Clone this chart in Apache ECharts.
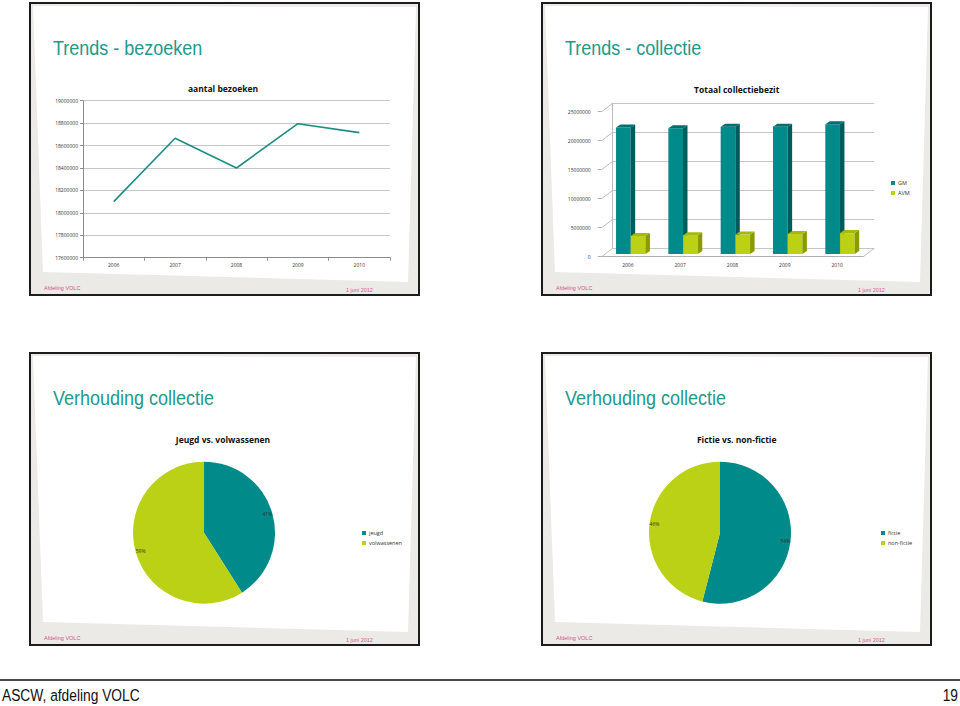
<!DOCTYPE html>
<html><head><meta charset="utf-8">
<script src="https://cdn.jsdelivr.net/npm/echarts@6/dist/echarts.min.js"></script>
<style>html,body{margin:0;padding:0;background:#fff}#c{width:960px;height:706px}</style>
</head><body><div id="c"></div><script>
// ---- data ----
const years = ['2006', '2007', '2008', '2009', '2010'];
const visits = [18100000, 18665000, 18400000, 18795000, 18715000];
const visitMin = 17600000, visitMax = 19000000, visitStep = 200000;
const gmValues = [21800000, 21700000, 21950000, 21950000, 22350000];
const avmValues = [3100000, 3250000, 3350000, 3450000, 3600000];
const collTicks = [0, 5000000, 10000000, 15000000, 20000000, 25000000];
const ageNames = ['jeugd', 'volwassenen'];
const ageValues = [41, 59];
const genreNames = ['fictie', 'non-fictie'];
const genreValues = [54, 46];
const slideTitles = ['Trends - bezoeken', 'Trends - collectie', 'Verhouding collectie', 'Verhouding collectie'];
const chartTitles = ['aantal bezoeken', 'Totaal collectiebezit', 'Jeugd vs. volwassenen', 'Fictie vs. non-fictie'];

// ---- styles ----
const TEAL = '#008b8a', TEAL_SIDE = '#005c5c', TEAL_TOP = '#006e6e';
const LIME = '#bbd116', LIME_SIDE = '#8a9a00', LIME_TOP = '#a5b80c';
const LINE = '#1f8c82', TITLE = '#22998b', PINK = '#d4538a';
const FONT = 'Liberation Sans';
const CFONT = 'Open Sans';

const chart = echarts.init(document.getElementById('c'), null, {renderer: 'svg'});

const offsets = [[0, 0], [512, 0], [0, 350], [512, 350]];
const titleCenters = [[223, 88], [736.7, 89], [223, 439], [736.7, 439]];
const graphics = [];
function txt(x, y, text, size, family, fill, extra) {
  return Object.assign({type: 'text', z: 10, x, y, silent: true,
    style: Object.assign({text, fontSize: size, fontFamily: family, fill, textVerticalAlign: 'middle'}, (extra && extra.style) || {})},
    (extra && extra.el) || {});
}
offsets.forEach(([ox, oy], k) => {
  graphics.push({type: 'rect', z: -10, shape: {x: 30 + ox, y: 3 + oy, width: 389, height: 292},
    style: {fill: '#eceae7', stroke: '#1c1c1c', lineWidth: 2}, silent: true});
  graphics.push({type: 'polygon', z: -9, shape: {points: [[33 + ox, 6 + oy], [416 + ox, 7 + oy], [408 + ox, 282 + oy], [43 + ox, 272 + oy]]},
    style: {fill: '#ffffff'}, silent: true});
  graphics.push(txt(53 + ox, 48 + oy, slideTitles[k], 20, FONT, TITLE, {el: {scaleX: 0.9}}));
  graphics.push(txt(titleCenters[k][0], titleCenters[k][1], chartTitles[k], 8.5, CFONT, '#111',
    {style: {fontWeight: 'bold', textAlign: 'center'}}));
  graphics.push(txt(44 + ox, 288 + oy, 'Afdeling VOLC', 5.5, FONT, PINK));
  graphics.push(txt(346 + ox, 289.5 + oy, '1 juni 2012', 5.5, FONT, PINK));
});
graphics.push({type: 'line', shape: {x1: 0, y1: 680, x2: 960, y2: 680}, style: {stroke: '#4a4a4a', lineWidth: 2}, silent: true});
graphics.push(txt(2, 695, 'ASCW, afdeling VOLC', 17, FONT, '#111', {el: {scaleX: 0.81}}));
graphics.push(txt(958, 695, '19', 17, FONT, '#111', {el: {scaleX: 0.81}, style: {textAlign: 'right'}}));

// ---- 3D bar helpers ----
const WALL_DX = 11, WALL_DY = -8.5;
const BAR_W = 0.28, SHIFT_X = 3.6, SHIFT_Y = -2.7, DEPTH_DX = 4.5, DEPTH_DY = -3;
function bar3d(offset, front, side, topc) {
  return function (params, api) {
    const i = api.value(0), v = api.value(1);
    const bw = api.size([1, 0])[0];
    const base = api.coord([i, 0]);
    const top = api.coord([i, v]);
    const w = BAR_W * bw;
    const x0 = base[0] + offset * bw + SHIFT_X;
    const yb = base[1] + SHIFT_Y, yt = top[1] + SHIFT_Y;
    return {type: 'group', children: [
      {type: 'rect', shape: {x: x0, y: yt, width: w, height: yb - yt}, style: {fill: front}},
      {type: 'polygon', shape: {points: [[x0 + w, yt], [x0 + w + DEPTH_DX, yt + DEPTH_DY], [x0 + w + DEPTH_DX, yb + DEPTH_DY], [x0 + w, yb]]}, style: {fill: side}},
      {type: 'polygon', shape: {points: [[x0, yt], [x0 + DEPTH_DX, yt + DEPTH_DY], [x0 + w + DEPTH_DX, yt + DEPTH_DY], [x0 + w, yt]]}, style: {fill: topc}}
    ]};
  };
}
function wallDiag(params, api) {
  const v = api.value(1);
  const bw = api.size([1, 0])[0];
  const p = api.coord([0, v]);
  const lx = p[0] - bw / 2;
  const children = [{type: 'line', shape: {x1: lx, y1: p[1], x2: lx + WALL_DX, y2: p[1] + WALL_DY}, style: {stroke: '#bdbdbd', lineWidth: 1}}];
  if (v === 0) {
    const q = api.coord([years.length - 1, 0]);
    const rx = q[0] + bw / 2;
    children.push({type: 'line', shape: {x1: rx, y1: q[1], x2: rx + WALL_DX, y2: q[1] + WALL_DY}, style: {stroke: '#bdbdbd', lineWidth: 1}});
  }
  return {type: 'group', children};
}

const plain = v => String(Math.round(v));
const smallLabel = {fontSize: 5, color: '#333', fontFamily: CFONT};

function pieLabelFmt(p) { return Math.round(p.percent) + '%'; }
function pieSeries(center, names, values) {
  const data = names.map((n, i) => ({name: n, value: values[i], itemStyle: {color: i === 0 ? TEAL : LIME}}));
  return [
    {type: 'pie', center, radius: 71, startAngle: 90, clockwise: true, label: {show: false}, labelLine: {show: false},
      itemStyle: {borderWidth: 0}, emphasis: {disabled: true}, silent: true, data},
    {type: 'pie', center, radius: [55, 71], startAngle: 90, clockwise: true, silent: true, emphasis: {disabled: true},
      itemStyle: {color: 'rgba(0,0,0,0)', borderWidth: 0},
      label: {show: true, position: 'inside', formatter: pieLabelFmt, fontSize: 5, color: '#333', fontFamily: CFONT},
      labelLine: {show: false},
      data: names.map((n, i) => ({name: n, value: values[i], itemStyle: {color: 'rgba(0,0,0,0)'}}))}
  ];
}

const legendText = {fontSize: 5.5, color: '#333', fontFamily: CFONT, padding: [0, 0, 0, -2]};
const option = {
  backgroundColor: '#ffffff',
  animation: false,
  graphic: graphics,
  grid: [
    {left: 83, top: 100.7, width: 307, height: 157},
    {left: 601.7, top: 111.7, width: 261.6, height: 145},
    {left: 601.7 + WALL_DX, top: 111.7 + WALL_DY, width: 261.6, height: 145}
  ],
  xAxis: [
    {gridIndex: 0, type: 'category', data: years, boundaryGap: true,
      axisLine: {lineStyle: {color: '#8c8c8c'}}, axisTick: {show: true, length: 3, lineStyle: {color: '#8c8c8c'}},
      axisLabel: Object.assign({margin: 5}, smallLabel)},
    {gridIndex: 1, type: 'category', data: years, boundaryGap: true,
      axisLine: {lineStyle: {color: '#b0b0b0'}}, axisTick: {show: false},
      axisLabel: Object.assign({margin: 6}, smallLabel)},
    {gridIndex: 2, type: 'category', data: years, show: false}
  ],
  yAxis: [
    {gridIndex: 0, type: 'value', min: visitMin, max: visitMax, interval: visitStep,
      axisLine: {show: true, lineStyle: {color: '#8c8c8c'}}, axisTick: {show: true, length: 3, lineStyle: {color: '#8c8c8c'}},
      splitLine: {lineStyle: {color: '#c6c6c6'}},
      axisLabel: Object.assign({margin: 5, formatter: plain}, smallLabel)},
    {gridIndex: 1, type: 'value', min: collTicks[0], max: collTicks[collTicks.length - 1], interval: collTicks[1] - collTicks[0],
      axisLine: {show: false}, axisTick: {show: true, length: 4, lineStyle: {color: '#b0b0b0'}},
      splitLine: {show: false},
      axisLabel: Object.assign({margin: 11, formatter: plain}, smallLabel)},
    {gridIndex: 2, type: 'value', min: collTicks[0], max: collTicks[collTicks.length - 1], interval: collTicks[1] - collTicks[0],
      axisLine: {show: true, lineStyle: {color: '#bdbdbd'}}, axisTick: {show: false}, axisLabel: {show: false},
      splitLine: {lineStyle: {color: '#c6c6c6'}}}
  ],
  legend: [
    {data: ['GM', 'AVM'], orient: 'vertical', left: 886, top: 175, itemWidth: 4, itemHeight: 4, itemGap: 4, icon: 'rect',
      selectedMode: false, textStyle: legendText},
    {data: ageNames.map((n, i) => ({name: n, itemStyle: {color: i === 0 ? TEAL : LIME}})), orient: 'vertical', left: 357, top: 525,
      itemWidth: 4, itemHeight: 4, itemGap: 4, icon: 'rect', selectedMode: false, textStyle: legendText},
    {data: genreNames.map((n, i) => ({name: n, itemStyle: {color: i === 0 ? TEAL : LIME}})), orient: 'vertical', left: 876, top: 525,
      itemWidth: 4, itemHeight: 4, itemGap: 4, icon: 'rect', selectedMode: false, textStyle: legendText}
  ],
  series: [
    {type: 'line', xAxisIndex: 0, yAxisIndex: 0, data: visits, symbol: 'none', silent: true,
      lineStyle: {color: LINE, width: 1.6}, itemStyle: {color: LINE}},
    {type: 'custom', xAxisIndex: 1, yAxisIndex: 1, silent: true, z: 1, clip: false,
      data: collTicks.map(v => [0, v]), renderItem: wallDiag},
    {name: 'GM', type: 'custom', xAxisIndex: 1, yAxisIndex: 1, silent: true, z: 3, clip: false,
      itemStyle: {color: TEAL}, data: years.map((y, i) => [i, gmValues[i]]),
      renderItem: bar3d(-0.295, TEAL, TEAL_SIDE, TEAL_TOP)},
    {name: 'AVM', type: 'custom', xAxisIndex: 1, yAxisIndex: 1, silent: true, z: 4, clip: false,
      itemStyle: {color: LIME}, data: years.map((y, i) => [i, avmValues[i]]),
      renderItem: bar3d(-0.013, LIME, LIME_SIDE, LIME_TOP)}
  ].concat(pieSeries([204, 532.7], ageNames, ageValues), pieSeries([720, 532.7], genreNames, genreValues))
};
chart.setOption(option);
</script></body></html>
